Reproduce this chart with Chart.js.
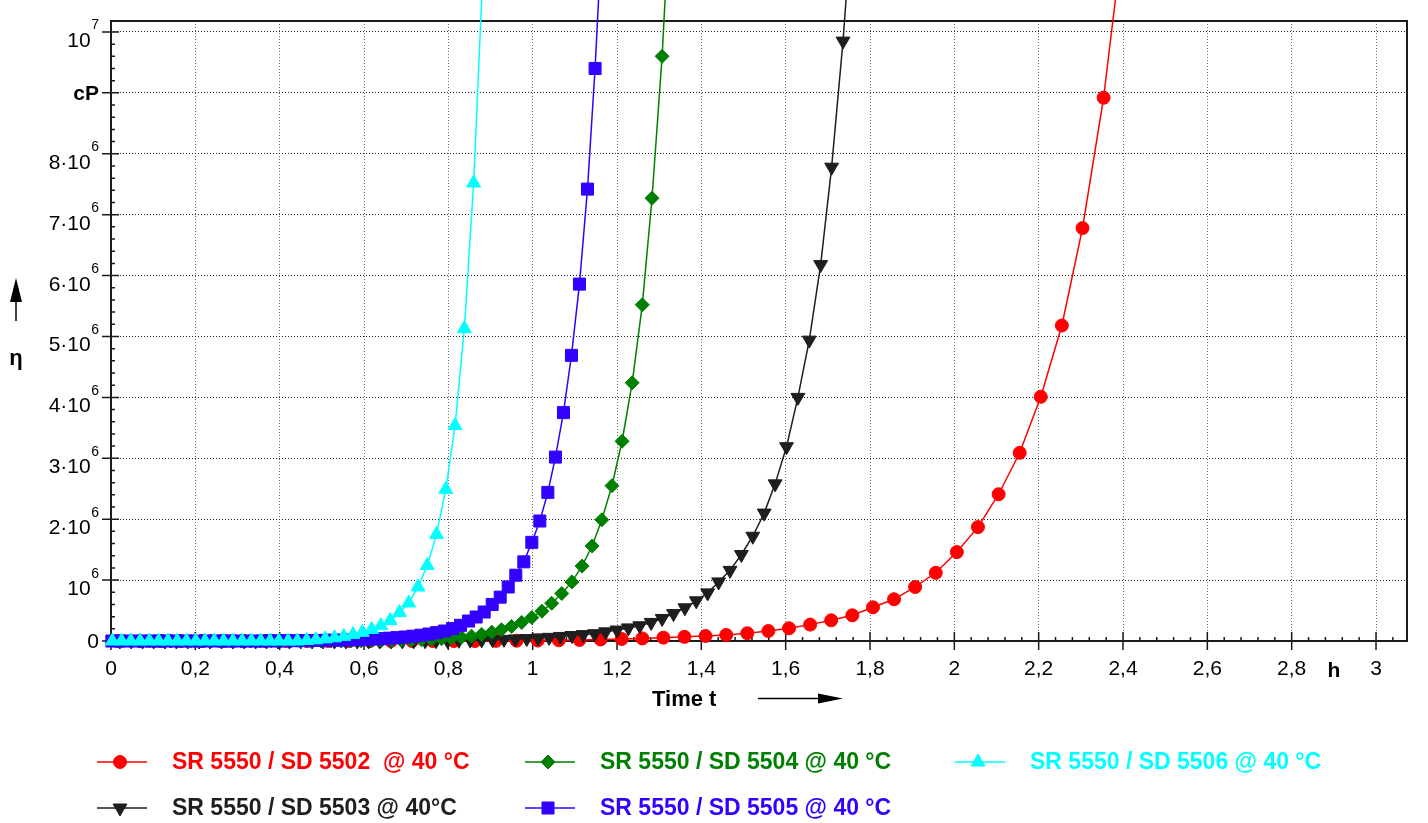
<!DOCTYPE html>
<html>
<head>
<meta charset="utf-8">
<title>Viscosity over time</title>
<script src="https://cdn.jsdelivr.net/npm/chart.js@4.4.1/dist/chart.umd.min.js"></script>
<style>
  html, body { margin: 0; padding: 0; background: #fff; }
  canvas { display: block; }
</style>
</head>
<body>
<canvas id="viscChart" width="1428" height="823"></canvas>
<script>
'use strict';

// Data: time t in h, viscosity eta in 10^6 cP
var seriesNames = [
  'SR 5550 / SD 5502  @ 40 °C',
  'SR 5550 / SD 5504 @ 40 °C',
  'SR 5550 / SD 5506 @ 40 °C',
  'SR 5550 / SD 5503 @ 40°C',
  'SR 5550 / SD 5505 @ 40 °C'
];
var seriesColors = ['#ff0000', '#008000', '#00ffff', '#1e1e1e', '#3300ff'];

var redTime = [0.018, 0.068, 0.117, 0.167, 0.217, 0.267, 0.316, 0.366, 0.416, 0.465, 0.515, 0.565, 0.614, 0.664, 0.714, 0.763, 0.813, 0.863,
  0.913, 0.962, 1.012, 1.062, 1.111, 1.161, 1.211, 1.260, 1.310, 1.360, 1.410, 1.459, 1.509, 1.559, 1.608, 1.658, 1.708, 1.758, 1.807, 1.857,
  1.907, 1.956, 2.006, 2.056, 2.105, 2.155, 2.205, 2.255, 2.304, 2.354, 2.404];
var redVisc = [0, 0, 0, 0, 0, 0, 0, 0, 0, 0, 0, 0, 0, 0, 0, 0, 0, 0,
  0.003, 0.005, 0.008, 0.012, 0.018, 0.025, 0.033, 0.043, 0.055, 0.068, 0.082, 0.100, 0.128, 0.164, 0.209, 0.269, 0.340, 0.422, 0.553, 0.685,
  0.887, 1.12, 1.46, 1.87, 2.41, 3.09, 4.01, 5.18, 6.78, 8.92, 11.8];

var greenTime = [0.022, 0.046, 0.070, 0.093, 0.117, 0.141, 0.165, 0.189, 0.212, 0.236, 0.260, 0.284, 0.308, 0.331, 0.355, 0.379, 0.403, 0.427,
  0.450, 0.474, 0.498, 0.522, 0.546, 0.569, 0.593, 0.617, 0.641, 0.665, 0.688, 0.712, 0.736, 0.760, 0.784, 0.807, 0.831, 0.855, 0.879, 0.903,
  0.926, 0.950, 0.974, 0.998, 1.022, 1.045, 1.069, 1.093, 1.117, 1.141, 1.164, 1.188, 1.212, 1.236, 1.260, 1.283, 1.307, 1.331];
var greenVisc = [0, 0, 0, 0, 0, 0, 0, 0, 0, 0, 0, 0, 0, 0, 0, 0, 0, 0, 0, 0, 0, 0, 0,
  0.002, 0.003, 0.004, 0.006, 0.009, 0.012, 0.016, 0.021, 0.028, 0.037, 0.048, 0.062, 0.080, 0.108, 0.145, 0.185, 0.240, 0.305, 0.385, 0.49,
  0.62, 0.78, 0.97, 1.23, 1.56, 1.99, 2.55, 3.28, 4.24, 5.52, 7.27, 9.60, 12.8];

var cyanTime = [0.003, 0.025, 0.047, 0.069, 0.091, 0.113, 0.135, 0.157, 0.179, 0.201, 0.223, 0.245, 0.267, 0.289, 0.311, 0.333, 0.355, 0.377,
  0.398, 0.420, 0.442, 0.464, 0.486, 0.508, 0.530, 0.552, 0.574, 0.596, 0.618, 0.640, 0.662, 0.684, 0.706, 0.728, 0.750, 0.772, 0.794, 0.816,
  0.838, 0.860, 0.882];
var cyanVisc = [0, 0, 0, 0, 0, 0, 0, 0, 0, 0, 0, 0, 0, 0, 0, 0, 0, 0, 0, 0, 0,
  0.010, 0.020, 0.035, 0.052, 0.075, 0.105, 0.142, 0.188, 0.250, 0.335, 0.466, 0.624, 0.887, 1.24, 1.75, 2.49, 3.54, 5.13, 7.52, 11.0];

var blackTime = [0.021, 0.048, 0.075, 0.101, 0.128, 0.155, 0.182, 0.209, 0.235, 0.262, 0.289, 0.316, 0.343, 0.369, 0.396, 0.423, 0.450, 0.477,
  0.503, 0.530, 0.557, 0.584, 0.611, 0.637, 0.664, 0.691, 0.718, 0.745, 0.771, 0.798, 0.825, 0.852, 0.879, 0.905, 0.932, 0.959, 0.986, 1.013,
  1.039, 1.066, 1.093, 1.120, 1.147, 1.173, 1.200, 1.227, 1.254, 1.281, 1.307, 1.334, 1.361, 1.388, 1.415, 1.441, 1.468, 1.495, 1.522, 1.549,
  1.575, 1.602, 1.629, 1.656, 1.683, 1.709, 1.736, 1.763];
var blackVisc = [0, 0, 0, 0, 0, 0, 0, 0, 0, 0, 0, 0, 0, 0, 0, 0, 0, 0, 0, 0, 0, 0, 0, 0, 0,
  0.002, 0.003, 0.004, 0.006, 0.008, 0.011, 0.014, 0.018, 0.022, 0.027, 0.033, 0.040, 0.050, 0.060, 0.075, 0.090, 0.105, 0.120, 0.150, 0.180,
  0.215, 0.250, 0.305, 0.370, 0.450, 0.545, 0.660, 0.790, 0.970, 1.16, 1.42, 1.72, 2.10, 2.58, 3.19, 4.00, 4.94, 6.18, 7.78, 9.85, 12.4];

var blueTime = [0.002, 0.020, 0.039, 0.058, 0.077, 0.096, 0.114, 0.133, 0.152, 0.171, 0.190, 0.208, 0.227, 0.246, 0.265, 0.284, 0.302, 0.321,
  0.340, 0.359, 0.378, 0.396, 0.415, 0.434, 0.453, 0.472, 0.490, 0.509, 0.528, 0.547, 0.566, 0.584, 0.603, 0.622, 0.641, 0.660, 0.678, 0.697,
  0.716, 0.735, 0.754, 0.772, 0.791, 0.810, 0.829, 0.848, 0.866, 0.885, 0.904, 0.923, 0.942, 0.960, 0.979, 0.998, 1.017, 1.036, 1.054, 1.073,
  1.092, 1.111, 1.130, 1.148, 1.167];
var blueVisc = [0, 0, 0, 0, 0, 0, 0, 0, 0, 0, 0, 0, 0, 0, 0, 0, 0, 0, 0, 0,
  0.002, 0.003, 0.004, 0.005, 0.006, 0.007, 0.009, 0.011, 0.013, 0.015, 0.018, 0.022, 0.027, 0.032, 0.038, 0.046, 0.055, 0.066, 0.079, 0.095,
  0.114, 0.137, 0.164, 0.204, 0.258, 0.328, 0.394, 0.476, 0.60, 0.72, 0.887, 1.08, 1.30, 1.62, 1.97, 2.44, 3.02, 3.75, 4.69, 5.86, 7.42, 9.40, 12.0];

// Axis ticks and their labels
var xTickValues = [0, 0.2, 0.4, 0.6, 0.8, 1, 1.2, 1.4, 1.6, 1.8, 2, 2.2, 2.4, 2.6, 2.8, 3];
var xTickLabels = ['0', '0,2', '0,4', '0,6', '0,8', '1', '1,2', '1,4', '1,6', '1,8', '2', '2,2', '2,4', '2,6', '2,8', '3'];
var yTickValues = [0, 1, 2, 3, 4, 5, 6, 7, 8, 9, 10];
var yTickLabels = ['0', '10', '2·10', '3·10', '4·10', '5·10', '6·10', '7·10', '8·10', 'cP', '10'];
var yTickExponents = ['', '6', '6', '6', '6', '6', '6', '6', '6', '', '7'];

var FONT = '"Liberation Sans", Arial, Helvetica, sans-serif';

function toPoints(times, visc) {
  return times.map(function (t, i) { return { x: t, y: visc[i] }; });
}

var markerStyles = [
  { pointStyle: 'circle', radius: 6.5, rotation: 0 },
  { pointStyle: 'rectRot', radius: 7, rotation: 0 },
  { pointStyle: 'triangle', radius: 8, rotation: 0 },
  { pointStyle: 'triangle', radius: 8, rotation: 180 },
  { pointStyle: 'rect', radius: 8.5, rotation: 0 }
];
var seriesData = [
  toPoints(redTime, redVisc),
  toPoints(greenTime, greenVisc),
  toPoints(cyanTime, cyanVisc),
  toPoints(blackTime, blackVisc),
  toPoints(blueTime, blueVisc)
];
// drawing order: cyan on top, red at the bottom
var drawOrder = [4, 2, 0, 3, 1];

var datasets = seriesData.map(function (pts, i) {
  return {
    label: seriesNames[i],
    data: pts,
    showLine: true,
    tension: 0,
    borderColor: seriesColors[i],
    backgroundColor: seriesColors[i],
    borderWidth: 1.5,
    pointStyle: markerStyles[i].pointStyle,
    pointRadius: markerStyles[i].radius,
    pointRotation: markerStyles[i].rotation,
    pointBorderWidth: 1,
    pointHoverRadius: markerStyles[i].radius,
    order: drawOrder[i],
    clip: { left: 12, top: 21, right: 0, bottom: 10 }
  };
});

// Frame and tick marks
var axisFrame = {
  id: 'axisFrame',
  beforeDatasetsDraw: function (chart) {
    var ctx = chart.ctx;
    var a = chart.chartArea;
    var xs = chart.scales.x;
    var ys = chart.scales.y;
    ctx.save();
    ctx.strokeStyle = '#1a1a1a';
    ctx.lineWidth = 2;
    ctx.strokeRect(a.left, a.top, a.right - a.left, a.bottom - a.top);

    ctx.lineWidth = 1.5;
    ctx.beginPath();
    xTickValues.forEach(function (v) {
      var px = xs.getPixelForValue(v);
      ctx.moveTo(px, a.bottom - 9);
      ctx.lineTo(px, a.bottom + 9);
    });
    for (var i = 1; i * 0.04 < xs.max; i++) {
      if (i % 5 === 0) continue;
      var mx = xs.getPixelForValue(i * 0.04);
      ctx.moveTo(mx, a.bottom - 4);
      ctx.lineTo(mx, a.bottom);
    }
    yTickValues.forEach(function (v) {
      var py = ys.getPixelForValue(v);
      ctx.moveTo(a.left - 9, py);
      ctx.lineTo(a.left + 8, py);
    });
    for (var j = 1; j * 0.2 < ys.max; j++) {
      if (j % 5 === 0) continue;
      var my = ys.getPixelForValue(j * 0.2);
      ctx.moveTo(a.left, my);
      ctx.lineTo(a.left + 4, my);
    }
    ctx.stroke();
    ctx.restore();
  },
  afterDraw: function (chart) {
    var ctx = chart.ctx;
    var a = chart.chartArea;
    var xs = chart.scales.x;
    var ys = chart.scales.y;
    ctx.save();
    ctx.fillStyle = '#000';

    // x labels
    ctx.font = '21px ' + FONT;
    ctx.textAlign = 'center';
    ctx.textBaseline = 'alphabetic';
    xTickValues.forEach(function (v, i) {
      ctx.fillText(xTickLabels[i], xs.getPixelForValue(v), a.bottom + 34);
    });
    ctx.font = 'bold 21px ' + FONT;
    ctx.fillText('h', xs.getPixelForValue(2.9), a.bottom + 35.5);

    // y labels with exponents
    ctx.textAlign = 'right';
    yTickValues.forEach(function (v, i) {
      var py = ys.getPixelForValue(v);
      var label = yTickLabels[i];
      var exp = yTickExponents[i];
      if (!exp) {
        ctx.font = (label === 'cP' ? 'bold ' : '') + '21px ' + FONT;
        ctx.textBaseline = 'middle';
        ctx.fillText(label, a.left - 12, py + 1);
        return;
      }
      ctx.textBaseline = 'alphabetic';
      ctx.font = '14px ' + FONT;
      var supW = ctx.measureText(exp).width;
      ctx.fillText(exp, a.left - 12, py - 2.5);
      ctx.font = '21px ' + FONT;
      ctx.fillText(label, a.left - 12 - supW - 0.5, py + 15);
    });

    // axis titles with arrows
    ctx.font = 'bold 22px ' + FONT;
    ctx.textAlign = 'left';
    ctx.textBaseline = 'alphabetic';
    ctx.fillText('Time t', 652, 706);
    ctx.strokeStyle = '#000';
    ctx.lineWidth = 1.5;
    ctx.beginPath();
    ctx.moveTo(758, 698.5);
    ctx.lineTo(822, 698.5);
    ctx.stroke();
    ctx.beginPath();
    ctx.moveTo(843, 698.5);
    ctx.lineTo(818, 693.5);
    ctx.lineTo(818, 703.5);
    ctx.closePath();
    ctx.fill();

    ctx.textAlign = 'center';
    ctx.fillText('η', 16, 365);
    ctx.beginPath();
    ctx.moveTo(16, 321);
    ctx.lineTo(16, 298);
    ctx.stroke();
    ctx.beginPath();
    ctx.moveTo(16, 278);
    ctx.lineTo(10, 302);
    ctx.lineTo(22, 302);
    ctx.closePath();
    ctx.fill();
    ctx.restore();
  }
};

// Legend in three columns
var legendSlots = [[97, 762], [525, 762], [955, 762], [97, 808], [525, 808]];
var seriesLegend = {
  id: 'seriesLegend',
  afterDraw: function (chart) {
    var ctx = chart.ctx;
    ctx.save();
    datasets.forEach(function (ds, i) {
      var x = legendSlots[i][0];
      var y = legendSlots[i][1];
      ctx.strokeStyle = seriesColors[i];
      ctx.fillStyle = seriesColors[i];
      ctx.lineWidth = 1.5;
      ctx.beginPath();
      ctx.moveTo(x, y);
      ctx.lineTo(x + 50, y);
      ctx.stroke();
      ctx.lineWidth = 1;
      Chart.helpers.drawPoint(ctx, {
        pointStyle: markerStyles[i].pointStyle,
        radius: markerStyles[i].radius,
        rotation: markerStyles[i].rotation,
        borderWidth: 1
      }, x + 23, y);
      ctx.font = 'bold 23px ' + FONT;
      ctx.textAlign = 'left';
      ctx.textBaseline = 'middle';
      ctx.fillText(ds.label, x + 75, y + 1);
    });
    ctx.restore();
  }
};

var viscChart = new Chart(document.getElementById('viscChart').getContext('2d'), {
  type: 'scatter',
  data: { datasets: datasets },
  options: {
    responsive: false,
    animation: false,
    devicePixelRatio: 1,
    layout: { padding: { left: 111, top: 21, right: 21, bottom: 182 } },
    plugins: {
      legend: { display: false },
      tooltip: { enabled: false }
    },
    scales: {
      x: {
        type: 'linear',
        min: 0,
        max: 3.0735,
        afterBuildTicks: function (scale) {
          scale.ticks = xTickValues.map(function (v) { return { value: v }; });
        },
        ticks: { display: false },
        grid: { color: '#6a6a6a', lineWidth: 1, drawTicks: false },
        border: { display: false, dash: [1, 2] }
      },
      y: {
        type: 'linear',
        min: 0,
        max: 10.18,
        afterBuildTicks: function (scale) {
          scale.ticks = yTickValues.map(function (v) { return { value: v }; });
        },
        ticks: { display: false },
        grid: { color: '#222', lineWidth: 1, drawTicks: false },
        border: { display: false, dash: [1, 2] }
      }
    }
  },
  plugins: [axisFrame, seriesLegend]
});
</script>
</body>
</html>
